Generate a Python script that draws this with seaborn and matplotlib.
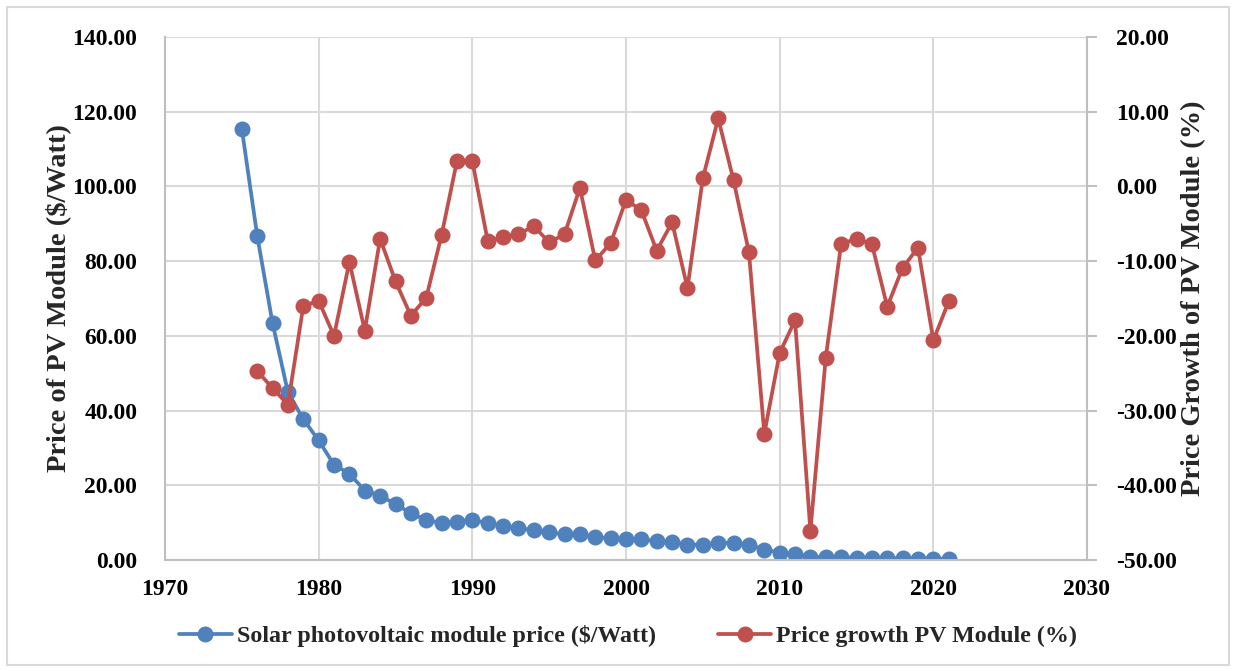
import matplotlib
matplotlib.use("Agg")
import matplotlib.pyplot as plt
from matplotlib.ticker import FuncFormatter, MultipleLocator
from matplotlib.patches import Rectangle
import seaborn as sns
import pandas as pd

# Module price series (1975-2021)
price_years = list(range(1975, 2022))
module_price = [
    115.4, 86.8, 63.4, 44.9, 37.7, 32.0, 25.5, 23.1, 18.6, 17.2,
    15.0, 12.5, 10.7, 9.9, 10.3, 10.7, 9.9, 9.2, 8.5, 8.0,
    7.4, 6.9, 6.9, 6.2, 5.8, 5.6, 5.6, 5.0, 4.7, 4.1,
    4.1, 4.6, 4.6, 4.1, 2.8, 2.0, 1.6, 0.9, 0.8, 0.7,
    0.65, 0.55, 0.5, 0.45, 0.4, 0.38, 0.33,
]

# Year-on-year price growth (1976-2021)
growth_years = list(range(1976, 2022))
price_growth = [
    -24.7, -27.0, -29.2, -16.0, -15.3, -20.0, -10.1, -19.3, -7.0, -12.7,
    -17.3, -14.9, -6.5, 3.4, 3.4, -7.3, -6.8, -6.4, -5.3, -7.5,
    -6.4, -0.2, -9.9, -7.6, -1.8, -3.2, -8.6, -4.8, -13.6, 1.1,
    9.1, 0.8, -8.8, -33.1, -22.3, -17.9, -46.1, -22.9, -7.7, -7.0,
    -7.7, -16.1, -10.9, -8.2, -20.6, -15.4,
]

price_label = "Solar photovoltaic module price ($/Watt)"
growth_label = "Price growth PV Module (%)"

BLUE = "#4F81BD"
RED = "#C0504D"
GRID = "#D9D9D9"
SPINE = "#BFBFBF"

sns.set_style("white")
plt.rcParams["font.family"] = ["Liberation Serif", "DejaVu Serif"]
plt.rcParams["font.weight"] = "bold"

FS = 17
FS_TITLE = 20.5

fig = plt.figure(figsize=(12.36, 6.71), dpi=100)
ax = fig.add_axes([165 / 1236, 1 - 560 / 671, (1087 - 165) / 1236, (560 - 37) / 671])
ax2 = ax.twinx()

df_price = pd.DataFrame({"year": price_years, "value": module_price})
df_growth = pd.DataFrame({"year": growth_years, "value": price_growth})

sns.lineplot(data=df_price, x="year", y="value", ax=ax, color=BLUE, lw=2.7,
             marker="o", markersize=11.5, markeredgewidth=0, label=price_label,
             legend=False)
sns.lineplot(data=df_growth, x="year", y="value", ax=ax2, color=RED, lw=2.7,
             marker="o", markersize=11.5, markeredgewidth=0, label=growth_label,
             legend=False)

ax.set_xlim(1970, 2030)
ax.set_ylim(0, 140)
ax2.set_ylim(-50, 20)
ax.xaxis.set_major_locator(MultipleLocator(10))
ax.yaxis.set_major_locator(MultipleLocator(20))
ax2.yaxis.set_major_locator(MultipleLocator(10))

fmt = FuncFormatter(lambda v, _: f"{v:.2f}")
ax.yaxis.set_major_formatter(fmt)
ax2.yaxis.set_major_formatter(fmt)
ax.xaxis.set_major_formatter(FuncFormatter(lambda v, _: f"{int(round(v))}"))

ax.grid(True, color=GRID, lw=1.5)
ax.set_axisbelow(True)
ax2.grid(False)

for a in (ax, ax2):
    for side, sp in a.spines.items():
        sp.set_color(SPINE)
        sp.set_linewidth(1.5)
    a.spines["top"].set_visible(False)
ax.spines["right"].set_visible(False)
ax2.spines["left"].set_visible(False)
ax2.spines["bottom"].set_visible(False)

ax.tick_params(axis="both", length=0, labelsize=FS, colors="black")
ax.tick_params(axis="y", pad=20)
ax.tick_params(axis="x", pad=14)
ax2.tick_params(axis="y", length=7, width=1.5, color=SPINE, labelsize=FS,
                pad=14, labelcolor="black")
for lbl in ax.get_xticklabels() + ax.get_yticklabels() + ax2.get_yticklabels():
    lbl.set_fontweight("bold")

ax.set_xlabel("")
ax.set_ylabel("Price of PV Module ($/Watt)", fontsize=FS_TITLE, fontweight="bold",
              labelpad=1)
ax2.set_ylabel("Price Growth of PV Module (%)", fontsize=FS_TITLE, fontweight="bold",
               rotation=90, labelpad=3)

h1, l1 = ax.get_legend_handles_labels()
h2, l2 = ax2.get_legend_handles_labels()
fig.legend(h1 + h2, l1 + l2, loc="center", bbox_to_anchor=(0.508, 1 - 636 / 671),
           ncol=2, frameon=False, handlelength=2.2,
           handletextpad=0.2, columnspacing=2.6, prop={"weight": "bold", "size": 17.3})

# Light frame around the whole chart area
fig.patches.append(Rectangle((7 / 1236, 6 / 671), 1 - 14 / 1236, 1 - 13 / 671,
                             transform=fig.transFigure, fill=False,
                             edgecolor=GRID, lw=1.5))

fig.savefig("out.png", dpi=100)
